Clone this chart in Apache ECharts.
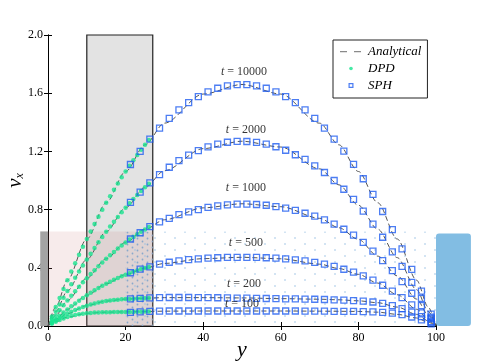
<!DOCTYPE html>
<html>
<head>
<meta charset="utf-8">
<title>v_x profiles</title>
<script src="https://cdn.jsdelivr.net/npm/echarts@6.0.0/dist/echarts.min.js"></script>
<style>
  html, body { margin: 0; padding: 0; background: #fff; }
  #chart { width: 485px; height: 363px; }
</style>
</head>
<body>
<div id="chart"></div>
<script>
// profile times (one curve each)
const times = [10000, 2000, 1000, 500, 200, 100]
const timeLabelY = [50.5, 51, 51, 51, 50.5, 50]
const timeLabelV = [1.75, 1.35, 0.95, 0.57, 0.29, 0.15]

// analytical solution
const anaY = [0, 2, 5, 10, 15, 20, 25, 30, 40, 50, 60, 70, 75, 80, 85, 90, 95, 98, 100]
const ana10000 = [0, 0.13, 0.315, 0.598, 0.847, 1.062, 1.245, 1.394, 1.594, 1.66, 1.594, 1.394, 1.245, 1.062, 0.847, 0.598, 0.315, 0.13, 0]
const ana2000 = [0, 0.1, 0.241, 0.457, 0.648, 0.813, 0.953, 1.067, 1.219, 1.27, 1.23, 1.08, 0.97, 0.83, 0.665, 0.47, 0.25, 0.1, 0]
const ana1000 = [0, 0.073, 0.175, 0.329, 0.462, 0.574, 0.664, 0.73, 0.812, 0.84, 0.82, 0.74, 0.675, 0.595, 0.48, 0.345, 0.185, 0.075, 0]
const ana500 = [0, 0.048, 0.114, 0.211, 0.29, 0.353, 0.398, 0.43, 0.463, 0.472, 0.462, 0.425, 0.395, 0.355, 0.295, 0.215, 0.115, 0.048, 0]
const ana200 = [0, 0.038, 0.085, 0.14, 0.171, 0.185, 0.191, 0.195, 0.195, 0.193, 0.188, 0.184, 0.18, 0.173, 0.16, 0.13, 0.08, 0.035, 0]
const ana100 = [0, 0.029, 0.061, 0.087, 0.095, 0.097, 0.099, 0.102, 0.103, 0.103, 0.103, 0.102, 0.101, 0.1, 0.095, 0.08, 0.055, 0.025, 0]

// DPD results (near the left wall)
const dpdY = [1, 2, 3, 4, 5, 6, 7, 8, 9, 10, 11, 12, 13, 14, 15, 16, 17, 18, 19, 20, 21, 22, 23, 24, 25, 26]
const dpd10000 = [0.066, 0.13, 0.193, 0.255, 0.315, 0.374, 0.432, 0.489, 0.544, 0.598, 0.65, 0.701, 0.751, 0.799, 0.847, 0.892, 0.937, 0.98, 1.022, 1.062, 1.101, 1.139, 1.176, 1.211, 1.245, 1.278]
const dpd2000 = [0.05, 0.1, 0.148, 0.195, 0.241, 0.287, 0.331, 0.374, 0.416, 0.457, 0.497, 0.536, 0.575, 0.612, 0.648, 0.683, 0.717, 0.75, 0.782, 0.813, 0.843, 0.872, 0.9, 0.927, 0.953, 0.978]
const dpd1000 = [0.037, 0.073, 0.108, 0.142, 0.175, 0.208, 0.239, 0.27, 0.3, 0.329, 0.357, 0.384, 0.411, 0.436, 0.462, 0.486, 0.509, 0.532, 0.553, 0.574, 0.594, 0.612, 0.63, 0.647, 0.664, 0.68]
const dpd500 = [0.024, 0.048, 0.071, 0.093, 0.114, 0.135, 0.155, 0.174, 0.193, 0.211, 0.228, 0.245, 0.261, 0.276, 0.29, 0.304, 0.318, 0.33, 0.342, 0.353, 0.363, 0.373, 0.382, 0.391, 0.398, 0.405]
const dpd200 = [0.02, 0.038, 0.055, 0.07, 0.085, 0.098, 0.11, 0.121, 0.131, 0.14, 0.148, 0.155, 0.161, 0.166, 0.171, 0.175, 0.178, 0.181, 0.183, 0.185, 0.186, 0.188, 0.189, 0.19, 0.191, 0.192]
const dpd100 = [0.015, 0.029, 0.041, 0.052, 0.061, 0.069, 0.075, 0.08, 0.084, 0.087, 0.09, 0.092, 0.093, 0.094, 0.095, 0.095, 0.096, 0.096, 0.096, 0.097, 0.097, 0.097, 0.098, 0.098, 0.099, 0.1]

// SPH results
const sphY = [21.25, 23.75, 26.25, 28.75, 31.25, 33.75, 36.25, 38.75, 41.25, 43.75, 46.25, 48.75, 51.25, 53.75, 56.25, 58.75, 61.25, 63.75, 66.25, 68.75, 71.25, 73.75, 76.25, 78.75, 81.25, 83.75, 86.25, 88.75, 91.25, 93.75, 96.25, 98.75]
const sph10000 = [1.11, 1.2, 1.285, 1.36, 1.427, 1.485, 1.535, 1.576, 1.609, 1.634, 1.651, 1.659, 1.659, 1.651, 1.634, 1.609, 1.576, 1.535, 1.485, 1.427, 1.36, 1.285, 1.202, 1.111, 1.012, 0.904, 0.787, 0.663, 0.53, 0.389, 0.24, 0.082]
const sph2000 = [0.85, 0.92, 0.983, 1.04, 1.091, 1.136, 1.174, 1.205, 1.231, 1.25, 1.263, 1.269, 1.268, 1.262, 1.25, 1.232, 1.208, 1.177, 1.145, 1.1, 1.055, 1.0, 0.94, 0.87, 0.79, 0.7, 0.61, 0.51, 0.41, 0.3, 0.19, 0.06]
const sph1000 = [0.598, 0.641, 0.683, 0.715, 0.74, 0.765, 0.785, 0.8, 0.815, 0.825, 0.832, 0.837, 0.838, 0.835, 0.83, 0.82, 0.81, 0.795, 0.775, 0.755, 0.73, 0.7, 0.665, 0.625, 0.575, 0.515, 0.45, 0.38, 0.305, 0.225, 0.14, 0.05]
const sph500 = [0.366, 0.391, 0.407, 0.425, 0.438, 0.448, 0.456, 0.462, 0.466, 0.469, 0.471, 0.472, 0.472, 0.471, 0.469, 0.466, 0.462, 0.455, 0.447, 0.437, 0.425, 0.41, 0.39, 0.37, 0.345, 0.315, 0.28, 0.24, 0.195, 0.145, 0.09, 0.03]
const sph200 = [0.186, 0.19, 0.193, 0.195, 0.196, 0.196, 0.196, 0.195, 0.195, 0.194, 0.193, 0.192, 0.191, 0.19, 0.189, 0.188, 0.187, 0.186, 0.185, 0.184, 0.182, 0.18, 0.178, 0.175, 0.171, 0.165, 0.155, 0.14, 0.12, 0.095, 0.065, 0.025]
const sph100 = [0.094, 0.097, 0.1, 0.102, 0.103, 0.103, 0.103, 0.103, 0.103, 0.103, 0.103, 0.103, 0.103, 0.103, 0.103, 0.103, 0.103, 0.103, 0.102, 0.102, 0.102, 0.101, 0.101, 0.1, 0.099, 0.097, 0.094, 0.088, 0.078, 0.062, 0.042, 0.015]

// domain regions: [y from, y to, v top]
const overlapBand = [10, 27, 2]
const dpdRegion = [0, 27, 0.65]
const sphRegion = [20, 100, 0.65]
const sphDense = [20, 27, 0.65]
const leftWall = [-2, 0, 0.65]
const rightWall = [100, 109, 0.635]

const yTicks = ['0.0', '0.4', '0.8', '1.2', '1.6', '2.0']

const anaSets = [ana10000, ana2000, ana1000, ana500, ana200, ana100]
const dpdSets = [dpd10000, dpd2000, dpd1000, dpd500, dpd200, dpd100]
const sphSets = [sph10000, sph2000, sph1000, sph500, sph200, sph100]

const serif = 'Liberation Serif, DejaVu Serif, serif'
const pair = (xs, vs) => xs.map((x, i) => [x, vs[i]])

// legend glyphs, drawn in a 24x7 box
const iconDash = 'path://M0,0M24,7M1,3h7v1.2h-7zM15,3h7v1.2h-7z'
const iconDot = 'path://M0,0M24,7M13.8,3.5A1.8,1.8 0 1 1 10.2,3.5A1.8,1.8 0 1 1 13.8,3.5z'
const iconBox = 'path://M0,0M24,7M9.5,1h5v5h-5zM10.7,2.2v2.6h2.6v-2.6z'

function dotPattern(w, h, r, color, dots) {
  const c = document.createElement('canvas')
  c.width = w
  c.height = h
  const ctx = c.getContext('2d')
  ctx.fillStyle = color
  dots.forEach(d => {
    ctx.beginPath()
    ctx.arc(d[0], d[1], r, 0, Math.PI * 2)
    ctx.fill()
  })
  return { image: c, repeat: 'repeat' }
}

function region(name, box, style, z) {
  return {
    name: name,
    type: 'custom',
    z: z,
    silent: true,
    clip: false,
    data: [box],
    renderItem(params, api) {
      const p0 = api.coord([api.value(0), api.value(2)])
      const p1 = api.coord([api.value(1), 0])
      return {
        type: 'rect',
        shape: { x: p0[0], y: p0[1], width: p1[0] - p0[0], height: p1[1] - p0[1], r: style.r || 0 },
        style: style
      }
    }
  }
}

const series = [
  region('band', overlapBand, { fill: '#e3e3e3', stroke: '#222', lineWidth: 1.2 }, 1),
  region('dpdParticles', dpdRegion, { fill: 'rgba(200,110,110,0.14)' }, 2),
  region('sphParticles', sphRegion, { fill: dotPattern(20, 24, 0.8, '#9cc2e4', [[5, 4], [15, 10], [5, 16], [15, 22]]) }, 3),
  region('sphDense', sphDense, { fill: dotPattern(10, 6, 0.9, '#8aa9cc', [[2.5, 1.5], [7.5, 4.5]]) }, 3),
  region('leftWall', leftWall, { fill: '#a3a3a3' }, 4),
  region('rightWall', rightWall, { fill: '#82bde3', r: 3 }, 4)
]

anaSets.forEach(vals => {
  series.push({
    name: 'Analytical',
    type: 'line',
    z: 5,
    smooth: 0.3,
    smoothMonotone: 'x',
    showSymbol: false,
    symbol: 'none',
    silent: true,
    color: '#555',
    lineStyle: { color: '#555', width: 1, type: [5, 3] },
    data: pair(anaY, vals)
  })
})

dpdSets.forEach(vals => {
  series.push({
    name: 'DPD',
    type: 'scatter',
    z: 6,
    symbol: 'circle',
    symbolSize: 4.5,
    silent: true,
    itemStyle: { color: '#17e38e' },
    data: pair(dpdY, vals)
  })
})

sphSets.forEach(vals => {
  series.push({
    name: 'SPH',
    type: 'scatter',
    z: 7,
    symbol: 'rect',
    symbolSize: 6,
    silent: true,
    itemStyle: { color: 'rgba(255,255,255,0)', borderColor: '#1f5cf0', borderWidth: 1.3 },
    data: pair(sphY, vals)
  })
})

series.push({
  name: 'labels',
  type: 'scatter',
  z: 8,
  symbolSize: 1,
  silent: true,
  itemStyle: { color: 'rgba(0,0,0,0)' },
  label: {
    show: true,
    position: 'inside',
    fontFamily: serif,
    fontSize: 12,
    color: '#000',
    formatter: p => '{i|t} = ' + p.data[2],
    rich: { i: { fontStyle: 'italic', fontFamily: serif, fontSize: 12 } }
  },
  data: times.map((t, i) => [timeLabelY[i], timeLabelV[i], t])
})

const chart = echarts.init(document.getElementById('chart'), null, { renderer: 'canvas' })
chart.setOption({
  animation: false,
  backgroundColor: '#fff',
  grid: { left: 48, right: 49, top: 35, bottom: 37, containLabel: false, outerBoundsMode: 'none' },
  legend: {
    orient: 'vertical',
    left: 333,
    top: 40,
    padding: [5, 6, 6, 6],
    itemGap: 4,
    itemWidth: 24,
    itemHeight: 7,
    borderColor: '#222',
    borderWidth: 1,
    backgroundColor: '#fff',
    textStyle: { fontFamily: serif, fontStyle: 'italic', fontSize: 13, color: '#000' },
    data: [
      { name: 'Analytical', icon: iconDash, itemStyle: { color: '#8a8a8a', borderWidth: 0 } },
      { name: 'DPD', icon: iconDot, itemStyle: { color: '#17e38e', borderWidth: 0 } },
      { name: 'SPH', icon: iconBox, itemStyle: { color: '#1f5cf0', borderWidth: 0 } }
    ]
  },
  xAxis: [{
    type: 'value',
    min: 0,
    max: 100,
    interval: 20,
    name: 'y',
    nameLocation: 'middle',
    nameGap: 13,
    nameMoveOverlap: false,
    nameTextStyle: { fontFamily: serif, fontStyle: 'italic', fontSize: 22, color: '#000' },
    axisLine: { lineStyle: { color: '#000', width: 1 } },
    axisTick: { inside: true, length: 4, lineStyle: { color: '#000' } },
    axisLabel: { fontFamily: serif, fontSize: 12, color: '#000', margin: 6 },
    splitLine: { show: false }
  }, {
    type: 'value',
    position: 'top',
    min: 0,
    max: 100,
    interval: 20,
    axisLine: { lineStyle: { color: '#000', width: 1 } },
    axisTick: { inside: true, length: 4, lineStyle: { color: '#000' } },
    axisLabel: { show: false },
    splitLine: { show: false }
  }],
  yAxis: [{
    type: 'value',
    min: 0,
    max: 2,
    interval: 0.4,
    name: '{v|v}{s|x}',
    nameLocation: 'middle',
    nameGap: 22,
    nameMoveOverlap: false,
    nameTextStyle: {
      rich: {
        v: { fontFamily: serif, fontStyle: 'italic', fontSize: 21, color: '#000' },
        s: { fontFamily: serif, fontStyle: 'italic', fontSize: 12, color: '#000', padding: [9, 0, 0, 0] }
      }
    },
    axisLine: { show: true, lineStyle: { color: '#000', width: 1 } },
    axisTick: { show: true, inside: true, length: 4, lineStyle: { color: '#000' } },
    axisLabel: { fontFamily: serif, fontSize: 12, color: '#000', margin: 5, formatter: (v, i) => yTicks[i] },
    splitLine: { show: false }
  }, {
    type: 'value',
    position: 'right',
    min: 0,
    max: 2,
    interval: 0.4,
    axisLine: { show: true, lineStyle: { color: '#000', width: 1 } },
    axisTick: { show: true, inside: true, length: 4, lineStyle: { color: '#000' } },
    axisLabel: { show: false },
    splitLine: { show: false }
  }],
  series: series
})
</script>
</body>
</html>
